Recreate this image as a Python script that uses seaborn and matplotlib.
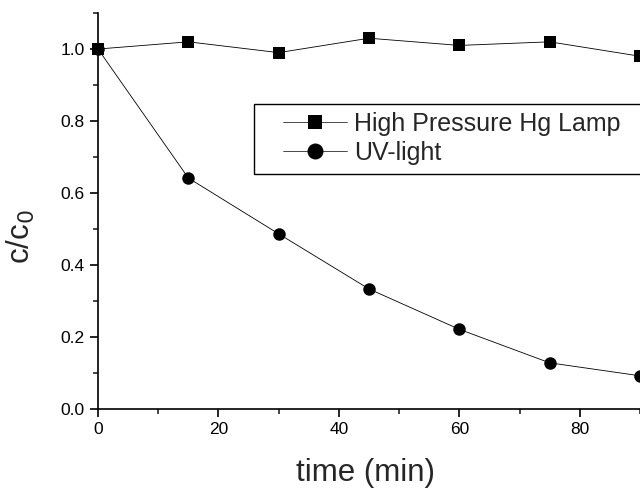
import seaborn as sns
import matplotlib.pyplot as plt
from matplotlib.patches import Rectangle
from matplotlib.ticker import MultipleLocator

# Data
time_min = [0, 15, 30, 45, 60, 75, 90]
hg_lamp = [1.00, 1.02, 0.99, 1.03, 1.01, 1.02, 0.98]
uv_light = [1.00, 0.642, 0.487, 0.334, 0.222, 0.129, 0.093]

sns.set_style('ticks')
plt.rcParams['font.family'] = ['Liberation Sans', 'DejaVu Sans']

W, H = 640, 488
fig = plt.figure(figsize=(6.4, 4.88), dpi=100)
ax = fig.add_axes([98 / W, 1 - 409.3 / H, 542 / W, 396.3 / H])

line_kws = dict(color='black', linewidth=0.6, markeredgewidth=0, clip_on=False)
sns.lineplot(x=time_min, y=hg_lamp, marker='s', markersize=8,
             label='High Pressure Hg Lamp', ax=ax, **line_kws)
sns.lineplot(x=time_min, y=uv_light, marker='o', markersize=9,
             label='UV-light', ax=ax, **line_kws)

ax.set_xlim(0, 90)
ax.set_ylim(0, 1.1)
ax.xaxis.set_major_locator(MultipleLocator(20))
ax.xaxis.set_minor_locator(MultipleLocator(10))
ax.yaxis.set_major_locator(MultipleLocator(0.2))
ax.yaxis.set_minor_locator(MultipleLocator(0.1))
ax.set_yticks([0, 0.2, 0.4, 0.6, 0.8, 1.0])
ax.set_yticklabels(['0.0', '0.2', '0.4', '0.6', '0.8', '1.0'])

for side in ['top', 'right']:
    ax.spines[side].set_visible(False)
for side in ['left', 'bottom']:
    ax.spines[side].set_linewidth(1.2)
    ax.spines[side].set_color('black')
ax.tick_params(which='major', direction='out', length=6, width=1.2,
               labelsize=12.5, colors='black')
ax.tick_params(which='minor', direction='out', length=3.5, width=1.2)

ax.set_xlabel('time (min)', fontsize=22.5)
ax.xaxis.set_label_coords(0.494, -0.122)
ax.set_ylabel('c/c$_0$', fontsize=22.5)
ax.yaxis.set_label_coords(-0.112, 0.436)

# legend box (frame drawn separately so the inner padding matches)
leg = ax.legend(loc='upper left', bbox_to_anchor=(283 / W, 1 - 112 / H),
                bbox_transform=fig.transFigure, borderaxespad=0, borderpad=0,
                fontsize=18, frameon=False,
                handlelength=2.56, handletextpad=0.3, labelspacing=0.2)
for h, ms in zip(leg.legend_handles, [9.5, 11.5]):
    h.set_markersize(ms)
    h.set_linewidth(0.5)
fig.patches.append(Rectangle((254 / W, 1 - 174 / H), 400 / W, 70 / H,
                             transform=fig.transFigure, fill=False,
                             edgecolor='black', linewidth=1.0))

fig.savefig('out.png', dpi=100)
